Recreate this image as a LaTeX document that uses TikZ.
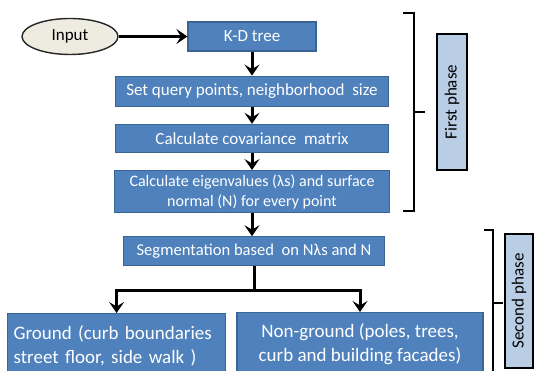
\documentclass[tikz,border=0pt]{standalone}
\usepackage{fontspec}
\setmainfont{Carlito}
\usetikzlibrary{arrows.meta,positioning,shapes.geometric}

\definecolor{stepfill}{HTML}{4F81BD}
\definecolor{stepline}{HTML}{3A6496}
\definecolor{phasefill}{HTML}{B9CDE5}
\definecolor{inputfill}{HTML}{EEECE1}

\begin{document}
\begin{tikzpicture}[
  x=1pt, y=1pt,
  font=\fontsize{17}{20}\selectfont,
  stepbox/.style={draw=stepline, fill=stepfill, text=white, line width=1.2pt,
    align=center, inner sep=0pt},
  phasebox/.style={draw=black, fill=phasefill, line width=1.5pt, rotate=90,
    inner sep=0pt},
  inputnode/.style={ellipse, draw=black!85, fill=inputfill, line width=1.4pt,
    minimum width=96pt, minimum height=36pt, inner sep=0pt},
  arrow/.style={-{Stealth[length=11pt,width=15pt,inset=4.5pt]}, line width=3pt},
  link/.style={line width=3pt},
  brace/.style={line width=2pt}
]
  \useasboundingbox (0,0) rectangle (534,371);
  \clip (0,0) rectangle (534,371);

  \node[inputnode] (input) at (70,334.5) {Input};
  \node[stepbox, minimum width=128pt, minimum height=29pt] (kd) at (252,334.5) {K-D tree};
  \node[stepbox, minimum width=273pt, minimum height=30pt, below=24pt of kd] (query)
    {Set query points, neighborhood\ \ size};
  \node[stepbox, minimum width=273pt, minimum height=28pt, below=17pt of query] (cov)
    {Calculate covariance\ \ matrix};
  \node[stepbox, minimum width=275pt, minimum height=42pt, below=17pt of cov,
    font=\fontsize{16}{20}\selectfont] (eigen)
    {Calculate eigenvalues (λs) and surface\\normal (N) for every point};
  \node[stepbox, minimum width=261pt, minimum height=29pt, below=23pt of eigen,
    xshift=2pt, font=\fontsize{16.6}{20}\selectfont] (seg)
    {Segmentation based\ \ on Nλs and N};

  \node[stepbox, anchor=north west, text width=206pt, inner xsep=6pt,
    minimum height=64pt, align=left, font=\fontsize{19}{24}\selectfont] (ground)
    at (7,58) {Ground (curb boundaries\\street floor, side walk )};
  \node[stepbox, anchor=north, minimum width=246pt, minimum height=64pt,
    font=\fontsize{19}{24}\selectfont] (nonground)
    at (360,59) {Non-ground (poles, trees,\\curb and building facades)};

  \node[phasebox, minimum width=136pt, minimum height=30pt] (first) at (452,269) {First phase};
  \node[phasebox, minimum width=134pt, minimum height=28pt] (second) at (519,70) {Second phase};

  \draw[arrow] (input.east) -- (kd.west);
  \draw[arrow] (kd) -- (query);
  \draw[arrow] (query) -- (cov);
  \draw[arrow] (cov) -- (eigen);
  \draw[arrow] (eigen.south) -- (eigen.south |- seg.north);
  \draw[link] (seg.south) -- ++(0,-24.5) coordinate (split);
  \draw[arrow] ([xshift=1.5pt]split) -| (ground);
  \draw[arrow] ([xshift=-1.5pt]split) -| (nonground);

  % phase brackets
  \draw[brace] (403,358) -- (414,358) -- (414,160) -- (403,160);
  \draw[brace] (414,259) -- (425,259);
  \draw[brace] (484,141) -- (493,141) -- (493,-10);
  \draw[brace] (493,68) -- (503,68);
\end{tikzpicture}
\end{document}
